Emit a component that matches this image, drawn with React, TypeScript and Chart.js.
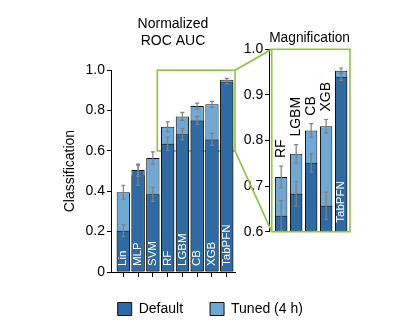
import React, { useEffect, useRef } from 'react';
import { Chart, registerables } from 'chart.js';

Chart.register(...registerables);

const CATEGORIES = ['Lin', 'MLP', 'SVM', 'RF', 'LGBM', 'CB', 'XGB', 'TabPFN'];
const DEFAULT_VALUES = [0.205, 0.505, 0.385, 0.635, 0.683, 0.751, 0.657, 0.94];
const TUNED_VALUES = [0.395, 0.48, 0.565, 0.72, 0.771, 0.822, 0.831, 0.953];
const DEFAULT_ERR = [0.03, 0.03, 0.035, 0.033, 0.027, 0.02, 0.03, 0.008];
const TUNED_ERR = [0.035, 0.05, 0.03, 0.024, 0.02, 0.015, 0.015, 0.006];
const MAIN_TICKS = [0, 0.2, 0.4, 0.6, 0.8, 1.0];
const INSET_TICKS = [0.6, 0.7, 0.8, 0.9, 1.0];
const INSET_START = 3; // RF onwards
const INSET_LABEL_ABOVE = [true, true, true, true, false];
const ZOOM_X = [2.3, 7.56];
const ZOOM_Y = [0.6, 1.0];
const INSET_BOX_X = [-0.63, 4.59];

const DARK = '#2e6ba5';
const LIGHT = '#6ea8d3';
const GREEN = '#8cc63e';
const ERR_COLOR = '#808080';
const FONT = 'Liberation Sans, Arial, Helvetica, sans-serif';

Chart.defaults.font.family = FONT;
Chart.defaults.color = '#000';

function drawErrors(chart: any, sets: { vals: number[]; errs: number[] }[]) {
  const ctx = chart.ctx;
  const y = chart.scales.y;
  ctx.save();
  ctx.strokeStyle = ERR_COLOR;
  ctx.lineWidth = 1.2;
  sets.forEach((s, d) => {
    const meta = chart.getDatasetMeta(d);
    meta.data.forEach((bar: any, i: number) => {
      const x = bar.x;
      const top = y.getPixelForValue(s.vals[i] + s.errs[i]);
      const bot = y.getPixelForValue(s.vals[i] - s.errs[i]);
      ctx.beginPath();
      ctx.moveTo(x, top); ctx.lineTo(x, bot);
      ctx.moveTo(x - 2, top); ctx.lineTo(x + 2, top);
      ctx.moveTo(x - 2, bot); ctx.lineTo(x + 2, bot);
      ctx.stroke();
    });
  });
  ctx.restore();
}

function drawRotated(ctx: any, text: string, x: number, y: number, font: string, color: string) {
  ctx.save();
  ctx.translate(x, y);
  ctx.rotate(-Math.PI / 2);
  ctx.font = font;
  ctx.fillStyle = color;
  ctx.textAlign = 'left';
  ctx.textBaseline = 'middle';
  ctx.fillText(text, 0, 0);
  ctx.restore();
}

const barBase = {
  borderColor: '#111',
  borderWidth: 1,
  borderSkipped: false,
  grouped: false,
  categoryPercentage: 1,
};

export default function App() {
  const mainRef = useRef<HTMLCanvasElement>(null);
  const insetRef = useRef<HTMLCanvasElement>(null);

  useEffect(() => {
    const mainPlugin = {
      id: 'mainOverlay',
      beforeDatasetsDraw(chart: any) {
        const { x, y } = chart.scales;
        const ctx = chart.ctx;
        ctx.save();
        ctx.strokeStyle = GREEN;
        ctx.lineWidth = 1.6;
        const l = x.getPixelForValue(ZOOM_X[0]);
        const r = x.getPixelForValue(ZOOM_X[1]);
        const t = y.getPixelForValue(ZOOM_Y[1]);
        const b = y.getPixelForValue(ZOOM_Y[0]);
        ctx.strokeRect(l, t, r - l, b - t);
        ctx.restore();
      },
      afterDatasetsDraw(chart: any) {
        drawErrors(chart, [
          { vals: DEFAULT_VALUES, errs: DEFAULT_ERR },
          { vals: TUNED_VALUES, errs: TUNED_ERR },
        ]);
        const y0 = chart.scales.y.getPixelForValue(0);
        const meta = chart.getDatasetMeta(0);
        CATEGORIES.forEach((c, i) => {
          drawRotated(chart.ctx, c, meta.data[i].x, y0 - 6, `11.5px ${FONT}`, '#fff');
        });
      },
    };

    const main = new Chart(mainRef.current as HTMLCanvasElement, {
      type: 'bar',
      data: {
        datasets: [
          {
            ...barBase,
            label: 'Default',
            data: DEFAULT_VALUES.map((v, i) => ({ x: i, y: v })),
            backgroundColor: DARK,
            barPercentage: 0.9,
            order: 0,
          },
          {
            ...barBase,
            label: 'Tuned (4 h)',
            data: TUNED_VALUES.map((v, i) => ({ x: i, y: v })),
            backgroundColor: LIGHT,
            barPercentage: 0.9,
            order: 1,
          },
        ],
      } as any,
      options: {
        animation: false,
        responsive: false,
        devicePixelRatio: 1,
        layout: { padding: { left: 11.6, right: 0, top: 15.6, bottom: 8 } },
        scales: {
          x: {
            type: 'linear',
            offset: false,
            min: -0.833,
            max: 7.56,
            grid: { display: true, drawOnChartArea: false, drawTicks: true, tickLength: 5, color: '#000', offset: false },
            border: { display: true, color: '#000', width: 1 },
            ticks: { display: false },
            afterBuildTicks: (s: any) => { s.ticks = CATEGORIES.map((_, i) => ({ value: i })); },
            afterFit: (s: any) => { s.height = 3; },
          },
          y: {
            type: 'linear',
            min: 0,
            max: 1,
            afterBuildTicks: (s: any) => { s.ticks = MAIN_TICKS.map((v) => ({ value: v })); },
            ticks: {
              font: { size: 14 },
              color: '#000',
              padding: 2,
              callback: (v: any) => (v === 0 ? '0' : Number(v).toFixed(1)),
            },
            grid: { drawOnChartArea: false, tickLength: 4, color: '#000' },
            border: { display: true, color: '#000', width: 1 },
            title: { display: true, text: 'Classification', font: { size: 14 }, color: '#000', padding: { top: 50, bottom: 0 } },
            afterFit: (s: any) => { s.width = 99.4; },
          },
          y2: {
            type: 'linear',
            position: 'right',
            grid: { display: false },
            border: { display: false },
            ticks: { display: false },
            afterFit: (s: any) => { s.width = 174; },
          },
        },
        plugins: {
          title: {
            display: true,
            text: ['Normalized', 'ROC AUC'],
            fullSize: false,
            font: { size: 14, weight: 'normal' },
            color: '#000',
            padding: { top: 0, bottom: 21 },
          },
          legend: {
            position: 'bottom',
            labels: { boxWidth: 14, boxHeight: 13, padding: 27, font: { size: 14 }, color: '#000' },
          },
          tooltip: { enabled: false },
        },
      } as any,
      plugins: [mainPlugin],
    });

    const insetCats = CATEGORIES.slice(INSET_START);
    const insetDefault = DEFAULT_VALUES.slice(INSET_START);
    const insetTuned = TUNED_VALUES.slice(INSET_START);
    const insetDefaultErr = DEFAULT_ERR.slice(INSET_START);
    const insetTunedErr = TUNED_ERR.slice(INSET_START);

    const insetPlugin = {
      id: 'insetOverlay',
      afterDatasetsDraw(chart: any) {
        drawErrors(chart, [
          { vals: insetDefault, errs: insetDefaultErr },
          { vals: insetTuned, errs: insetTunedErr },
        ]);
        const { x, y } = chart.scales;
        const meta = chart.getDatasetMeta(0);
        insetCats.forEach((c, i) => {
          if (INSET_LABEL_ABOVE[i]) {
            const yy = y.getPixelForValue(insetTuned[i] + insetTunedErr[i]) - 8;
            drawRotated(chart.ctx, c, meta.data[i].x, yy, `14px ${FONT}`, '#000');
          } else {
            drawRotated(chart.ctx, c, meta.data[i].x, y.getPixelForValue(ZOOM_Y[0]) - 9, `11.5px ${FONT}`, '#fff');
          }
        });
        const ctx = chart.ctx;
        ctx.save();
        ctx.strokeStyle = GREEN;
        ctx.lineWidth = 1.6;
        const l = x.getPixelForValue(INSET_BOX_X[0]);
        const r = x.getPixelForValue(INSET_BOX_X[1]);
        const t = y.getPixelForValue(ZOOM_Y[1]);
        const b = y.getPixelForValue(ZOOM_Y[0]);
        ctx.strokeRect(l, t, r - l, b - t);
        const mx = main.scales.x.getPixelForValue(ZOOM_X[1]);
        const mt = main.scales.y.getPixelForValue(ZOOM_Y[1]);
        const mb = main.scales.y.getPixelForValue(ZOOM_Y[0]);
        ctx.beginPath();
        ctx.moveTo(mx, mt); ctx.lineTo(l, t);
        ctx.moveTo(mx, mb); ctx.lineTo(l, b);
        ctx.stroke();
        ctx.restore();
      },
    };

    const inset = new Chart(insetRef.current as HTMLCanvasElement, {
      type: 'bar',
      data: {
        datasets: [
          {
            ...barBase,
            label: 'Default',
            data: insetDefault.map((v, i) => ({ x: i, y: v })),
            backgroundColor: DARK,
            barPercentage: 0.82,
            order: 0,
          },
          {
            ...barBase,
            label: 'Tuned (4 h)',
            data: insetTuned.map((v, i) => ({ x: i, y: v })),
            backgroundColor: LIGHT,
            barPercentage: 0.82,
            order: 1,
          },
        ],
      } as any,
      options: {
        animation: false,
        responsive: false,
        devicePixelRatio: 1,
        layout: { padding: { left: 0, right: 59, top: 29.6, bottom: 102.3 } },
        scales: {
          x: {
            type: 'linear',
            display: false,
            offset: false,
            min: -0.8,
            max: 4.59,
            afterBuildTicks: (s: any) => { s.ticks = insetCats.map((_, i) => ({ value: i })); },
          },
          y: {
            type: 'linear',
            min: ZOOM_Y[0],
            max: ZOOM_Y[1],
            afterBuildTicks: (s: any) => { s.ticks = INSET_TICKS.map((v) => ({ value: v })); },
            ticks: { font: { size: 14 }, color: '#000', padding: 2, callback: (v: any) => Number(v).toFixed(1) },
            grid: { drawOnChartArea: false, tickLength: 4, color: '#000' },
            border: { display: true, color: '#000', width: 1 },
            afterFit: (s: any) => { s.width = 269.2; },
          },
        },
        plugins: {
          title: {
            display: true,
            text: 'Magnification',
            fullSize: false,
            font: { size: 14, weight: 'normal' },
            color: '#000',
            padding: { top: 0, bottom: 2.9 },
          },
          legend: { display: false },
          tooltip: { enabled: false },
        },
      } as any,
      plugins: [insetPlugin],
    });

    return () => {
      inset.destroy();
      main.destroy();
    };
  }, []);

  return (
    <div style={{ position: 'fixed', left: 0, top: 0, width: 409, height: 334, background: '#fff' }}>
      <canvas ref={mainRef} width={409} height={334} style={{ position: 'absolute', left: 0, top: 0 }} />
      <canvas ref={insetRef} width={409} height={334} style={{ position: 'absolute', left: 0, top: 0 }} />
    </div>
  );
}
